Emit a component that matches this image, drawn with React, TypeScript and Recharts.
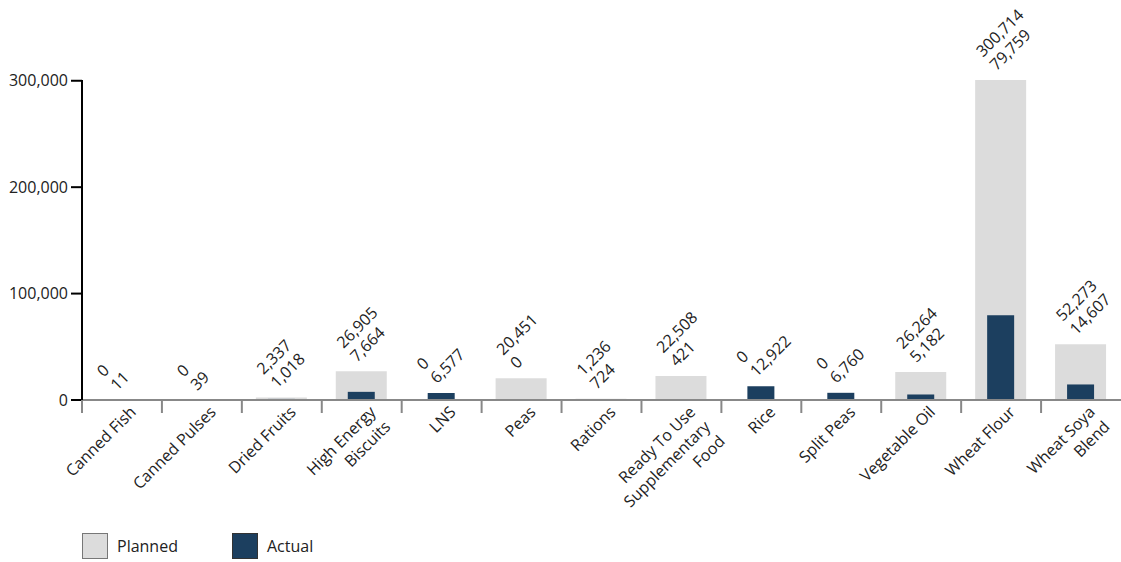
import React from 'react';
import { BarChart, Bar, XAxis, YAxis, Legend, LabelList, Text } from 'recharts';

const categories = [
  'Canned Fish',
  'Canned Pulses',
  'Dried Fruits',
  'High Energy Biscuits',
  'LNS',
  'Peas',
  'Rations',
  'Ready To Use Supplementary Food',
  'Rice',
  'Split Peas',
  'Vegetable Oil',
  'Wheat Flour',
  'Wheat Soya Blend',
];
const planned = [0, 0, 2337, 26905, 0, 20451, 1236, 22508, 0, 0, 26264, 300714, 52273];
const actual = [11, 39, 1018, 7664, 6577, 0, 724, 421, 12922, 6760, 5182, 79759, 14607];
const yTicks = [0, 100000, 200000, 300000];
const seriesOrder = ['Planned', 'Actual'];

const FONT = "'Open Sans', sans-serif";
const PLANNED_COLOR = '#dcdcdc';
const ACTUAL_COLOR = '#1c3f5f';

const rows = categories.map((name, i) => ({ name, planned: planned[i], actual: actual[i] }));

const fmt = (v: number) => v.toLocaleString('en-US');

// category label under the axis, plus a gray divider tick on the band's left edge
function CategoryTick(props: any) {
  const { x, y, payload } = props;
  const half = typeof payload?.offset === 'number' ? payload.offset : 40;
  return (
    <g>
      <line x1={x - half} x2={x - half} y1={y} y2={y + 13} stroke="#888" strokeWidth={2} />
      <Text
        x={x + 7}
        y={y + 5}
        angle={-45}
        textAnchor="end"
        verticalAnchor="start"
        width={120}
        lineHeight="1.3em"
        fill="#222"
        style={{ fontFamily: FONT, fontSize: 16 }}
      >
        {payload.value}
      </Text>
    </g>
  );
}

// planned / actual pair written diagonally above whichever bar is taller
function pairLabel(series: 'planned' | 'actual') {
  return (props: any) => {
    const idx = categories.indexOf(props.value);
    if (idx < 0) return null;
    const p = planned[idx];
    const a = actual[idx];
    const owner = p >= a ? 'planned' : 'actual';
    if (owner !== series) return null;
    const vb = props.viewBox ?? props;
    const cx = vb.x + vb.width / 2;
    const top = vb.y;
    const ax = cx - 15;
    const ay = top - 19.5;
    return (
      <g transform={`rotate(-45, ${ax}, ${ay})`} fontFamily={FONT} fontSize={16} fill="#222">
        <text x={ax} y={ay - 3.9} textAnchor="start">{fmt(p)}</text>
        <text x={ax} y={ay + 15.3} textAnchor="start">{fmt(a)}</text>
      </g>
    );
  };
}

function LegendContent(props: any) {
  const items = [...(props.payload ?? [])].sort(
    (a: any, b: any) => seriesOrder.indexOf(a.value) - seriesOrder.indexOf(b.value),
  );
  const borders = ['#777', '#333'];
  return (
    <div
      style={{
        display: 'flex',
        alignItems: 'center',
        height: 30,
        paddingLeft: 82,
        fontFamily: FONT,
        fontSize: 16,
        color: '#222',
      }}
    >
      {items.map((it: any, i: number) => (
        <div key={it.value} style={{ display: 'flex', alignItems: 'center', width: 150 }}>
          <span
            style={{
              width: 26,
              height: 26,
              boxSizing: 'border-box',
              background: it.color,
              border: `1px solid ${borders[i] ?? '#555'}`,
              marginRight: 9,
            }}
          />
          <span>{it.value}</span>
        </div>
      ))}
    </div>
  );
}

export default function App() {
  return (
    <div>
      <style>{'body{margin:0}'}</style>
      <BarChart
        width={1121}
        height={562}
        data={rows}
        margin={{ top: 80, right: 0, bottom: 1, left: 0 }}
      >
        <XAxis
          xAxisId="planned"
          dataKey="name"
          interval={0}
          height={131}
          axisLine={{ stroke: '#888', strokeWidth: 2 }}
          tickLine={false}
          tickSize={0}
          tickMargin={0}
          tick={<CategoryTick />}
        />
        <XAxis xAxisId="actual" dataKey="name" hide height={0} />
        <YAxis
          width={82}
          domain={[0, 'dataMax']}
          ticks={yTicks}
          tickFormatter={fmt}
          axisLine={{ stroke: '#000', strokeWidth: 2 }}
          tickLine={{ stroke: '#000', strokeWidth: 2 }}
          tickSize={11}
          tickMargin={3}
          tick={{ fill: '#222', fontSize: 16, fontFamily: FONT }}
        />
        <Legend verticalAlign="bottom" align="left" content={<LegendContent />} />
        <Bar
          xAxisId="planned"
          dataKey="planned"
          name="Planned"
          fill={PLANNED_COLOR}
          barSize={51}
          isAnimationActive={false}
        >
          <LabelList dataKey="name" content={pairLabel('planned')} />
        </Bar>
        <Bar
          xAxisId="actual"
          dataKey="actual"
          name="Actual"
          fill={ACTUAL_COLOR}
          barSize={27}
          isAnimationActive={false}
        >
          <LabelList dataKey="name" content={pairLabel('actual')} />
        </Bar>
      </BarChart>
    </div>
  );
}
